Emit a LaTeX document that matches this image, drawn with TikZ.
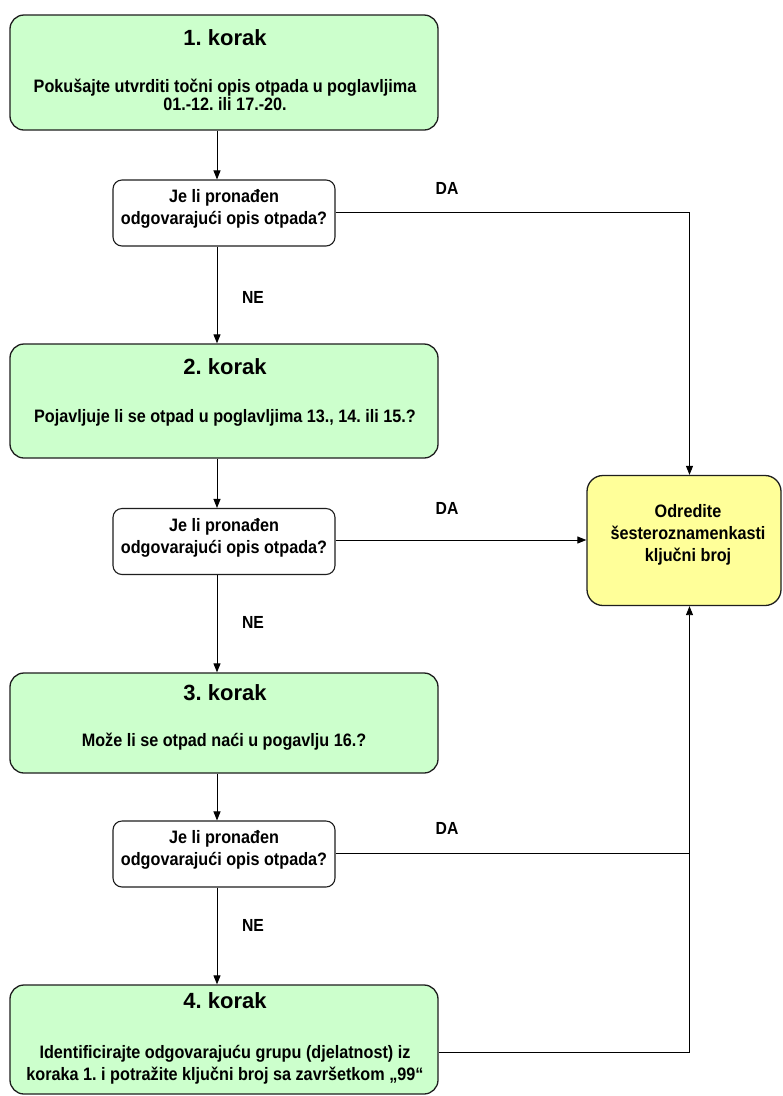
\documentclass[tikz,border=0pt]{standalone}
\usepackage{fontspec}
\setmainfont{Liberation Sans}
\newfontfamily\narrowfont{Liberation Sans}[FakeStretch=0.9]
\usetikzlibrary{arrows.meta}
\definecolor{stepgreen}{RGB}{204,255,204}
\definecolor{resyellow}{RGB}{255,255,153}
\definecolor{edgecol}{RGB}{30,30,30}
\tikzset{
 stepbox/.style={draw=edgecol, line width=1.3pt, fill=stepgreen, rounded corners=14pt, minimum width=428pt, inner sep=0pt},
 decbox/.style={draw=edgecol, line width=1.1pt, fill=white, rounded corners=9pt, minimum width=222pt, minimum height=66pt, inner sep=0pt},
 resbox/.style={draw=edgecol, line width=1.3pt, fill=resyellow, rounded corners=16pt, minimum width=194pt, minimum height=130pt, inner sep=0pt},
 headtxt/.style={font=\fontsize{22}{24}\selectfont\bfseries, inner sep=0pt},
 bodytxt/.style={font=\narrowfont\fontsize{18}{16.5}\selectfont\bfseries, align=center, inner sep=0pt},
 dectxt/.style={font=\narrowfont\fontsize{18}{22}\selectfont\bfseries, align=center, inner sep=0pt},
 lbl/.style={font=\narrowfont\fontsize{17.5}{18}\selectfont\bfseries, inner sep=0pt},
 conn/.style={draw=black, line width=0.9pt},
 arr/.style={conn, -{Triangle[length=9pt,width=7pt]}},
}
\frenchspacing
\begin{document}
\begin{tikzpicture}[x=1pt,y=-1pt]
\useasboundingbox (0,0) rectangle (783,1096);
\fill[white] (0,0) rectangle (783,1096);
\coordinate (col) at (217,0);
\coordinate (rcol) at (689.5,0);

% Step 1
\node[stepbox, minimum height=115pt] (s1) at (224,72.5) {};
\node[headtxt] (s1h) at (225,38) {1. korak};
\node[bodytxt] (s1b) at (225,95) {Pokušajte utvrditi točni opis otpada u poglavljima\\01.-12. ili 17.-20.};

% Decision 1
\node[decbox] (d1) at (224,213) {};
\node[dectxt] (d1t) at (224,208.5) {Je li pronađen\\odgovarajući opis otpada?};

% Step 2
\node[stepbox, minimum height=114pt] (s2) at (224,401) {};
\node[headtxt] (s2h) at (225,367) {2. korak};
\node[bodytxt] (s2b) at (225,418) {Pojavljuje li se otpad u poglavljima 13., 14. ili 15.?};

% Decision 2
\node[decbox] (d2) at (224,541.5) {};
\node[dectxt] (d2t) at (224,537.5) {Je li pronađen\\odgovarajući opis otpada?};

% Step 3
\node[stepbox, minimum height=100pt] (s3) at (224,723) {};
\node[headtxt] (s3h) at (225,693) {3. korak};
\node[bodytxt] (s3b) at (224,742) {Može li se otpad naći u pogavlju 16.?};

% Decision 3
\node[decbox] (d3) at (224,854) {};
\node[dectxt] (d3t) at (224,850) {Je li pronađen\\odgovarajući opis otpada?};

% Step 4
\node[stepbox, minimum height=109pt] (s4) at (224,1039.5) {};
\node[headtxt] (s4h) at (225,1001) {4. korak};
\node[dectxt] (s4b) at (225,1065) {Identificirajte odgovarajuću grupu (djelatnost) iz\\koraka 1. i potražite ključni broj sa završetkom „99“};

% Result
\node[resbox] (r) at (684,540.5) {};
\node[dectxt] (rt) at (688,535) {Odredite\\šesteroznamenkasti\\ključni broj};

% Vertical flow
\draw[arr] (s1.south -| col) -- (d1.north -| col);
\draw[arr] (d1.south -| col) -- (s2.north -| col);
\draw[arr] (s2.south -| col) -- (d2.north -| col);
\draw[arr] (d2.south -| col) -- (s3.north -| col);
\draw[arr] (s3.south -| col) -- (d3.north -| col);
\draw[arr] (d3.south -| col) -- (s4.north -| col);

% NE labels
\node[lbl] (ne1) at (253,297) {NE};
\node[lbl] (ne2) at (253,622) {NE};
\node[lbl] (ne3) at (253,925) {NE};

% DA connectors
\draw[arr] ([yshift=1pt]d1.east) -- ([yshift=1pt]d1.east -| rcol) -- (r.north -| rcol);
\draw[arr] ([yshift=1.5pt]d2.east) -- ([yshift=1.5pt]d2.east -| r.west);
\draw[conn] ([yshift=1pt]d3.east) -- ([yshift=1pt]d3.east -| rcol);
\draw[arr] ([yshift=-13pt]s4.east) -- ([yshift=-13pt]s4.east -| rcol) -- (r.south -| rcol);

\node[lbl] (da1) at (447,188) {DA};
\node[lbl] (da2) at (447,508) {DA};
\node[lbl] (da3) at (447,828) {DA};
\end{tikzpicture}
\end{document}
